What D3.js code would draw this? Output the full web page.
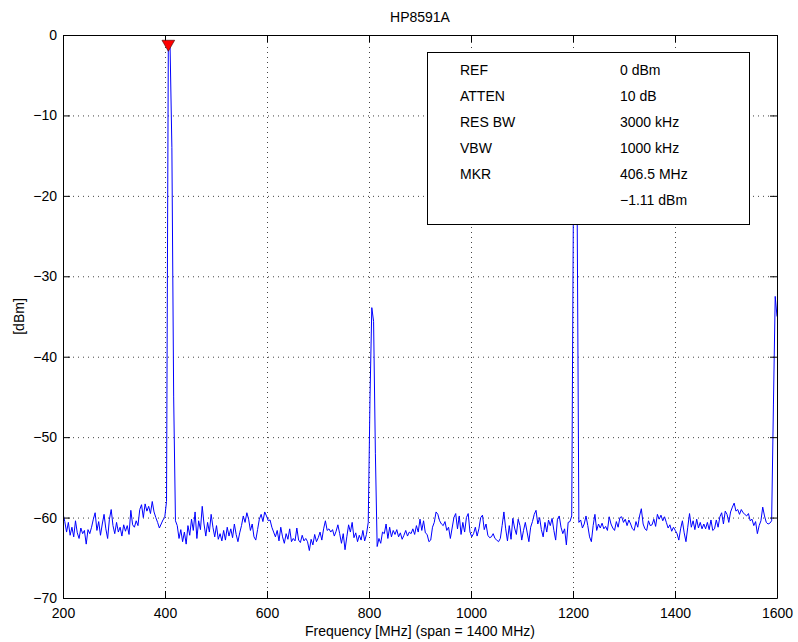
<!DOCTYPE html>
<html>
<head>
<meta charset="utf-8">
<script src="https://cdn.jsdelivr.net/npm/d3@7"></script>
<style>
  body { margin: 0; background: #fff; }
  .chart text { font-family: "Liberation Sans", Arial, sans-serif; font-size: 14px; fill: #000; }
  .grid line { stroke: #444; stroke-dasharray: 1,4; }
  .grid path { display: none; }
</style>
</head>
<body>
<div class="chart"></div>
<script>
// sweep settings of the analyzer (401 points, linear)
const sweepStart = 200;
const sweepStop = 1600;
const sweepPoints = 401;

// trace in dBm, one row = 20 points
const traceDbm = [
  -59.5, -60.5, -61.8, -60.6, -62.2, -61.2, -62.4, -60.4, -61.9, -62.6, -61.3, -62.0, -61.6, -63.3, -61.5, -62.0, -61.2, -60.2, -59.4, -61.6,
  -60.5, -62.2, -60.8, -59.6, -61.4, -62.6, -60.2, -59.0, -61.0, -62.0, -60.6, -61.8, -61.2, -62.3, -60.9, -61.7, -61.0, -62.1, -59.1, -60.9,
  -61.2, -60.4, -61.0, -59.0, -58.4, -60.0, -58.3, -59.2, -58.6, -59.5, -58.0, -59.3, -60.0, -60.6, -61.3, -60.8, -60.3, -60.0, -58.0, -1.11,
  -1.6, -14.0, -45.0, -60.4, -61.0, -62.6, -61.5, -63.0, -61.8, -63.3, -61.0, -62.2, -60.2, -61.6, -59.3, -62.6, -60.4, -61.5, -58.6, -60.8,
  -62.3, -60.6, -61.8, -59.6, -61.2, -62.4, -61.0, -62.7, -62.0, -62.9, -61.6, -62.8, -61.2, -62.3, -61.4, -62.5, -60.8, -62.1, -63.0, -61.9,
  -61.0, -59.8, -60.6, -59.4, -60.2, -61.6, -60.8, -62.4, -62.8, -61.5, -60.2, -59.6, -60.5, -59.3, -59.8, -60.4, -60.3, -61.2, -61.8, -62.4,
  -61.6, -62.9, -61.2, -62.4, -63.2, -62.0, -62.7, -61.4, -63.0, -62.6, -62.9, -61.3, -62.8, -63.1, -62.2, -62.9, -62.6, -63.0, -64.1, -62.7,
  -63.4, -62.1, -63.0, -62.5, -61.8, -62.8, -61.4, -60.4, -61.6, -61.4, -61.8, -61.5, -62.3, -61.7, -60.9, -62.0, -63.2, -62.0, -64.0, -62.4,
  -60.9, -61.8, -60.6, -62.5, -61.9, -63.0, -62.2, -62.8, -61.6, -62.9, -62.1, -60.6, -45.0, -33.9, -35.6, -52.0, -63.6, -62.6, -63.2, -61.8,
  -62.0, -60.8, -62.6, -61.2, -62.4, -61.6, -62.1, -61.5, -62.4, -61.9, -62.7, -62.2, -61.6, -62.3, -61.8, -62.0, -61.4, -62.1, -61.0, -61.8,
  -60.2, -61.6, -60.4, -61.9, -62.1, -63.0, -62.8, -61.2, -60.6, -59.3, -59.6, -60.4, -60.8, -61.0, -60.5, -61.6, -61.2, -62.6, -61.3, -60.0,
  -59.5, -61.4, -59.8, -62.1, -60.6, -61.8, -60.0, -59.5, -61.8, -62.4, -62.0, -61.2, -62.3, -61.4, -60.0, -59.7, -61.5, -60.8, -62.2, -62.5,
  -62.4, -62.0, -62.6, -62.8, -63.0, -62.6, -61.0, -59.3, -61.4, -62.9, -61.0, -62.7, -60.1, -61.3, -62.1, -60.2, -61.0, -62.8, -61.6, -60.6,
  -61.8, -63.0, -61.2, -60.5, -59.6, -59.1, -60.8, -60.0, -61.5, -62.4, -60.6, -61.8, -60.3, -61.0, -60.1, -61.6, -62.8, -60.2, -59.8, -61.2,
  -62.0, -61.4, -63.4, -60.6, -60.5, -59.8, -18.0, -8.0, -20.0, -60.6, -60.3, -61.3, -60.8, -59.8, -61.0, -62.4, -63.0, -61.0, -59.6, -61.6,
  -60.8, -61.3, -60.7, -61.4, -61.1, -61.6, -59.9, -60.8, -61.3, -61.6, -60.5, -61.2, -60.0, -59.9, -60.6, -60.2, -61.0, -60.3, -60.8, -61.4,
  -61.6, -60.5, -61.2, -59.8, -58.9, -60.8, -61.4, -61.6, -60.4, -61.0, -60.9, -60.2, -61.1, -59.6, -60.2, -59.7, -60.4, -59.9, -60.6, -61.3,
  -60.9, -61.7, -61.2, -61.6, -62.0, -62.8, -61.4, -60.4, -61.9, -63.0, -61.2, -59.5, -61.2, -60.4, -61.5, -60.2, -61.3, -60.6, -61.4, -60.8,
  -61.4, -60.6, -61.5, -60.3, -61.6, -61.4, -60.3, -61.2, -59.9, -59.4, -60.8, -59.2, -59.6, -60.6, -59.3, -58.7, -58.2, -59.2, -59.0, -59.6,
  -59.0, -59.4, -59.6, -59.8, -59.5, -60.4, -60.2, -61.0, -60.5, -62.0, -61.0, -60.4, -58.7, -59.8, -60.6, -60.8, -60.7, -60.4, -46.0, -32.5,
  -35.0
];

const xTicks = [200, 400, 600, 800, 1000, 1200, 1400, 1600];
const yTicks = [0, -10, -20, -30, -40, -50, -60, -70];

const marker = { freq: 406.5, level: -1.11 };

const legendLabels = ['REF', 'ATTEN', 'RES BW', 'VBW', 'MKR', ''];
const legendValues = ['0 dBm', '10 dB', '3000 kHz', '1000 kHz', '406.5 MHz', '\u22121.11 dBm'];

function displayChart() {
  const margin = { top: 35, right: 21, bottom: 44, left: 63 };
  const w = 798;
  const h = 642;
  const innerW = w - margin.left - margin.right;
  const innerH = h - margin.top - margin.bottom;

  const step = (sweepStop - sweepStart) / (sweepPoints - 1);
  const dataset = traceDbm.map((v, i) => [sweepStart + i * step, v]);

  const xScale = d3.scaleLinear()
    .domain([sweepStart, sweepStop])
    .range([0, innerW]);
  const yScale = d3.scaleLinear()
    .domain([-70, 0])
    .range([innerH, 0]);

  const svg = d3.select('.chart')
    .append('svg')
    .attr('width', w)
    .attr('height', h);

  const g = svg.append('g')
    .attr('transform', `translate(${margin.left}, ${margin.top})`);

  g.append('rect')
    .attr('width', innerW)
    .attr('height', innerH)
    .attr('fill', '#fff');

  // dotted grid
  g.append('g')
    .attr('class', 'grid')
    .attr('transform', `translate(0, ${innerH})`)
    .call(d3.axisBottom(xScale).tickValues(xTicks.slice(1, -1)).tickSize(-innerH).tickFormat(''));

  g.append('g')
    .attr('class', 'grid')
    .call(d3.axisLeft(yScale).tickValues(yTicks.slice(1, -1)).tickSize(-innerW).tickFormat(''));

  g.append('defs')
    .append('clipPath')
    .attr('id', 'clip')
    .append('rect')
    .attr('width', innerW)
    .attr('height', innerH);

  const line = d3.line()
    .x((d) => xScale(d[0]))
    .y((d) => yScale(d[1]));

  g.append('path')
    .datum(dataset)
    .attr('clip-path', 'url(#clip)')
    .attr('fill', 'none')
    .attr('stroke', '#0000ff')
    .attr('stroke-width', 1)
    .attr('stroke-linejoin', 'round')
    .attr('d', line);

  // axes, ticks inside on all four sides
  g.append('g')
    .attr('class', 'x-axis')
    .attr('transform', `translate(0, ${innerH})`)
    .call(d3.axisBottom(xScale).tickValues(xTicks).tickFormat(d3.format('d'))
      .tickSizeInner(-7).tickSizeOuter(0).tickPadding(10));

  g.append('g')
    .attr('class', 'y-axis')
    .call(d3.axisLeft(yScale).tickValues(yTicks).tickSizeInner(-7).tickSizeOuter(0).tickPadding(6));

  g.append('g')
    .call(d3.axisTop(xScale).tickValues(xTicks).tickSizeInner(-7).tickSizeOuter(0).tickFormat(''));

  g.append('g')
    .attr('transform', `translate(${innerW}, 0)`)
    .call(d3.axisRight(yScale).tickValues(yTicks).tickSizeInner(-7).tickSizeOuter(0).tickFormat(''));

  g.selectAll('.domain, .tick line')
    .filter(function () { return !this.closest('.grid'); })
    .attr('stroke', '#000');

  g.selectAll('.x-axis text, .y-axis text')
    .style('font-size', '14px')
    .style('font-family', '"Liberation Sans", Arial, sans-serif');

  // marker
  g.append('path')
    .attr('d', d3.symbol(d3.symbolTriangle, 70)())
    .attr('transform', `translate(${xScale(marker.freq)}, ${yScale(marker.level)}) rotate(180)`)
    .attr('fill', '#ff0000')
    .attr('stroke', '#400000')
    .attr('stroke-width', 0.6);

  // settings box
  const box = g.append('g')
    .attr('transform', `translate(${427 - margin.left}, ${52 - margin.top})`);

  box.append('rect')
    .attr('x', 0.5)
    .attr('y', 0.5)
    .attr('width', 322)
    .attr('height', 172)
    .attr('fill', '#fff')
    .attr('stroke', '#000');

  box.selectAll('.lbl')
    .data(legendLabels)
    .enter()
    .append('text')
    .attr('class', 'lbl')
    .attr('x', 33)
    .attr('y', (d, i) => 23 + i * 26)
    .text((d) => d);

  box.selectAll('.val')
    .data(legendValues)
    .enter()
    .append('text')
    .attr('class', 'val')
    .attr('x', 193)
    .attr('y', (d, i) => 23 + i * 26)
    .text((d) => d);

  // titles
  svg.append('text')
    .attr('x', margin.left + innerW / 2)
    .attr('y', 22)
    .attr('text-anchor', 'middle')
    .text('HP8591A');

  svg.append('text')
    .attr('x', margin.left + innerW / 2)
    .attr('y', 636)
    .attr('text-anchor', 'middle')
    .text('Frequency [MHz] (span = 1400 MHz)');

  svg.append('text')
    .attr('transform', `translate(24, ${margin.top + innerH / 2}) rotate(-90)`)
    .attr('text-anchor', 'middle')
    .text('[dBm]');
}

displayChart();
</script>
</body>
</html>
